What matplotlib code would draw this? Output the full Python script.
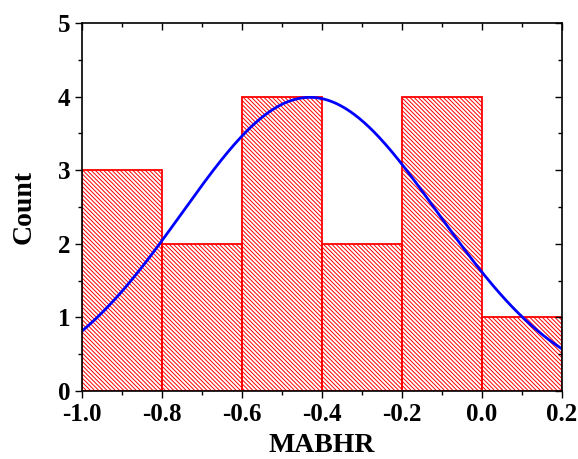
import numpy as np
import matplotlib.pyplot as plt
from matplotlib.ticker import MultipleLocator, FormatStrFormatter

# histogram of MABHR
bin_edges = [-1.0, -0.8, -0.6, -0.4, -0.2, 0.0, 0.2]
counts = [3, 2, 4, 2, 4, 1]

# normal fit parameters
fit_mu = -0.43
fit_sigma = 0.32
fit_n = 16

plt.rcParams['font.family'] = ['Liberation Serif', 'DejaVu Serif']
plt.rcParams['font.weight'] = 'bold'
plt.rcParams['hatch.linewidth'] = 0.7

fig, ax = plt.subplots(figsize=(5.78, 4.59), dpi=100)
fig.subplots_adjust(left=0.142, right=0.972, top=0.95, bottom=0.148)

lefts = bin_edges[:-1]
widths = np.diff(bin_edges)
ax.bar(lefts, counts, width=widths, align='edge', facecolor='none',
       edgecolor='red', linewidth=1.3, hatch='\\' * 8)

bw = widths[0]
x = np.linspace(bin_edges[0], bin_edges[-1], 300)
y = fit_n * bw / (fit_sigma * np.sqrt(2 * np.pi)) * np.exp(-(x - fit_mu) ** 2 / (2 * fit_sigma ** 2))
ax.plot(x, y, color='blue', linewidth=2)

ax.set_xlim(-1.0, 0.2)
ax.set_ylim(0, 5)
ax.xaxis.set_major_locator(MultipleLocator(0.2))
ax.xaxis.set_minor_locator(MultipleLocator(0.1))
ax.yaxis.set_major_locator(MultipleLocator(1))
ax.yaxis.set_minor_locator(MultipleLocator(0.5))
ax.xaxis.set_major_formatter(FormatStrFormatter('%.1f'))

ax.tick_params(which='both', direction='out', labelsize=18, width=1)
ax.tick_params(which='major', length=5)
ax.tick_params(which='minor', length=3)
ax.tick_params(which='both', top=True, right=True)
# top / right ticks point inward
for t in ax.xaxis.get_ticklines(minor=False)[1::2] + ax.xaxis.get_ticklines(minor=True)[1::2]:
    t.set_marker(3)
for t in ax.yaxis.get_ticklines(minor=False)[1::2] + ax.yaxis.get_ticklines(minor=True)[1::2]:
    t.set_marker(0)
for s in ax.spines.values():
    s.set_linewidth(1.2)

ax.set_xlabel('MABHR', fontsize=20, fontweight='bold', labelpad=5)
ax.set_ylabel('Count', fontsize=20, fontweight='bold', labelpad=15)

plt.savefig('out.png', dpi=100)
